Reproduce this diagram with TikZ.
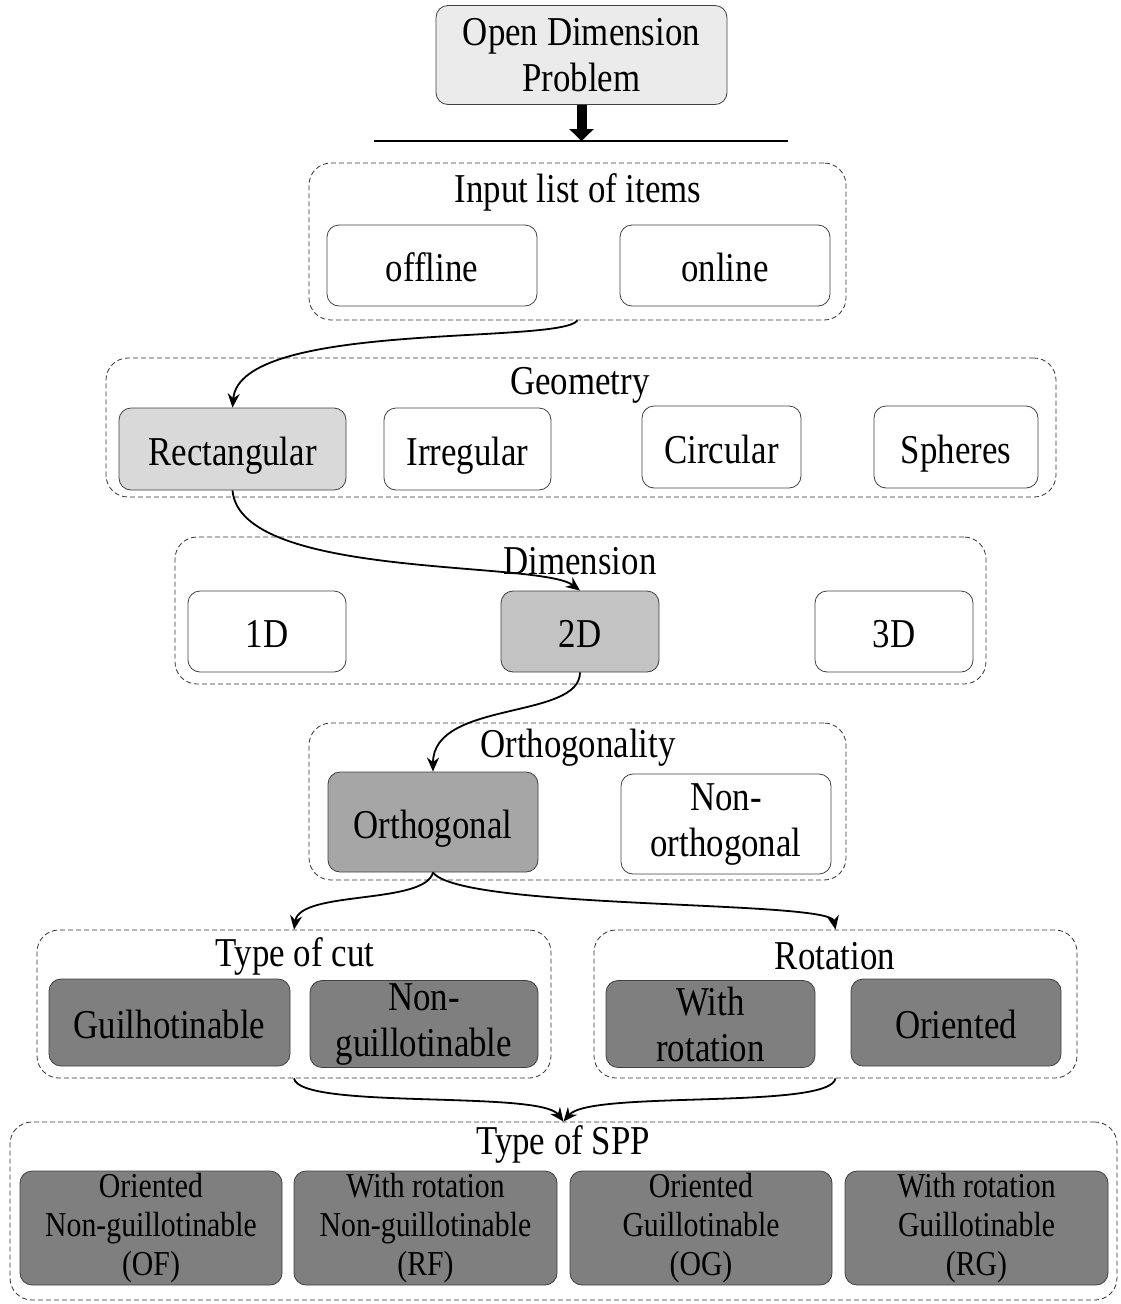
\documentclass[tikz,border=0pt]{standalone}
\usepackage{fontspec}
\setmainfont{Liberation Serif}[FakeStretch=0.85]
\usetikzlibrary{arrows.meta}

\definecolor{topgray}{HTML}{EBEBEB}
\definecolor{lightgray}{HTML}{D9D9D9}
\definecolor{midgray}{HTML}{C3C3C3}
\definecolor{deepgray}{HTML}{A6A6A6}
\definecolor{darkgray}{HTML}{7F7F7F}

\begin{document}
\begin{tikzpicture}[x=1pt,y=-1pt,
	box/.style={draw=black!75, rounded corners=12pt, align=center, inner sep=0pt, line width=0.8pt, font=\fontsize{41}{46}\selectfont},
	oneline/.style={text height=34pt, text depth=2pt},
	sppbox/.style={box, fill=darkgray, font=\fontsize{35}{39}\selectfont},
	grp/.style={draw=black!80, dash pattern=on 5pt off 3pt, rounded corners=22pt, line width=0.8pt, inner sep=0pt},
	ttl/.style={inner sep=0pt, font=\fontsize{41}{46}\selectfont},
	link/.style={-{Stealth[length=14pt,width=12pt]}, line width=1.8pt}]
		\useasboundingbox (0,0) rectangle (1121,1304);

		% problem and the bar under it
		\node (odp) [box, fill=topgray, minimum width=291, minimum height=99] at (581.5,55) {Open Dimension\\Problem};
		\coordinate (barL) at (374,141);
		\coordinate (barR) at (788,141);
		\coordinate (bar) at (581.5,141);
		\draw[line width=1.5pt] (barL) -- (barR);
		\draw[line width=10pt, -{Triangle[length=12pt,width=24pt]}] (odp.south) -- (bar);

		% input list
		\node (in) [grp, minimum width=537, minimum height=157] at (577.5,241.5) {};
		\node (inT) [ttl] at (578,192) {Input list of items};
		\node (off) [box, oneline, minimum width=210, minimum height=81] at (432,265.5) {offline};
		\node (on) [box, oneline, minimum width=210, minimum height=81] at (725,265.5) {online};

		% geometry
		\node (geo) [grp, minimum width=950, minimum height=139] at (581,427.5) {};
		\node (geoT) [ttl] at (580,385) {Geometry};
		\node (rect) [box, oneline, fill=lightgray, minimum width=227, minimum height=82] at (232.5,449) {Rectangular};
		\node (irr) [box, oneline, minimum width=167, minimum height=82] at (467.5,449) {Irregular};
		\node (circ) [box, oneline, minimum width=159, minimum height=82] at (721.5,447) {Circular};
		\node (sph) [box, oneline, minimum width=164, minimum height=82] at (956,447) {Spheres};

		% dimension
		\node (dim) [grp, minimum width=811, minimum height=147] at (580.5,610.5) {};
		\node (dimT) [ttl] at (580,561) {Dimension};
		\node (oneD) [box, oneline, minimum width=158, minimum height=81] at (267,631.5) {1D};
		\node (twoD) [box, oneline, fill=midgray, minimum width=158, minimum height=81] at (580,631.5) {2D};
		\node (threeD) [box, oneline, minimum width=158, minimum height=81] at (894,631.5) {3D};

		% orthogonality
		\node (ort) [grp, minimum width=537, minimum height=157] at (577.5,801.5) {};
		\node (ortT) [ttl] at (578,748) {Orthogonality};
		\node (orth) [box, oneline, fill=deepgray, minimum width=210, minimum height=100] at (433,822) {Orthogonal};
		\node (nonorth) [box, minimum width=210, minimum height=100] at (726,824) {Non-\\orthogonal};

		% type of cut
		\node (cut) [grp, minimum width=514, minimum height=148] at (294,1004) {};
		\node (cutT) [ttl] at (295,956) {Type of cut};
		\node (guil) [box, oneline, fill=darkgray, minimum width=241, minimum height=87] at (169.5,1022.5) {Guilhotinable};
		\node (nonguil) [box, fill=darkgray, minimum width=228, minimum height=87] at (424,1024) {Non-\\guillotinable};

		% rotation
		\node (rot) [grp, minimum width=483, minimum height=148] at (835.5,1004) {};
		\node (rotT) [ttl] at (835,956) {Rotation};
		\node (withrot) [box, fill=darkgray, minimum width=209, minimum height=87] at (710.5,1024) {With\\rotation};
		\node (orient) [box, oneline, fill=darkgray, minimum width=210, minimum height=87] at (956,1022.5) {Oriented};

		% type of SPP
		\node (spp) [grp, minimum width=1107, minimum height=178] at (563.5,1211) {};
		\node (sppT) [ttl] at (563,1144) {Type of SPP};
		\node (of) [sppbox, minimum width=262, minimum height=114] at (151,1228) {Oriented\\Non-guillotinable\\(OF)};
		\node (rf) [sppbox, minimum width=263, minimum height=114] at (425.5,1228) {With rotation\\Non-guillotinable\\(RF)};
		\node (og) [sppbox, minimum width=262, minimum height=114] at (701,1228) {Oriented\\Guillotinable\\(OG)};
		\node (rg) [sppbox, minimum width=263, minimum height=114] at (976.5,1228) {With rotation\\Guillotinable\\(RG)};

		% links
		\draw[link] (in.south) .. controls (560,345) and (240,320) .. (rect.north);
		\draw[link] (rect.south) .. controls (240,580) and (540,560) .. (twoD.north);
		\draw[link] (twoD.south) .. controls (580,720) and (433,700) .. (orth.north);
		\draw[link] (orth.south) .. controls (425,905) and (300,890) .. (cut.north);
		\draw[link] (orth.south) .. controls (460,910) and (830,900) .. (rot.north);
		\draw[link] (cut.south) .. controls (300,1110) and (540,1090) .. (spp.north);
		\draw[link] (rot.south) .. controls (830,1110) and (590,1090) .. (spp.north);
	\end{tikzpicture}
\end{document}
